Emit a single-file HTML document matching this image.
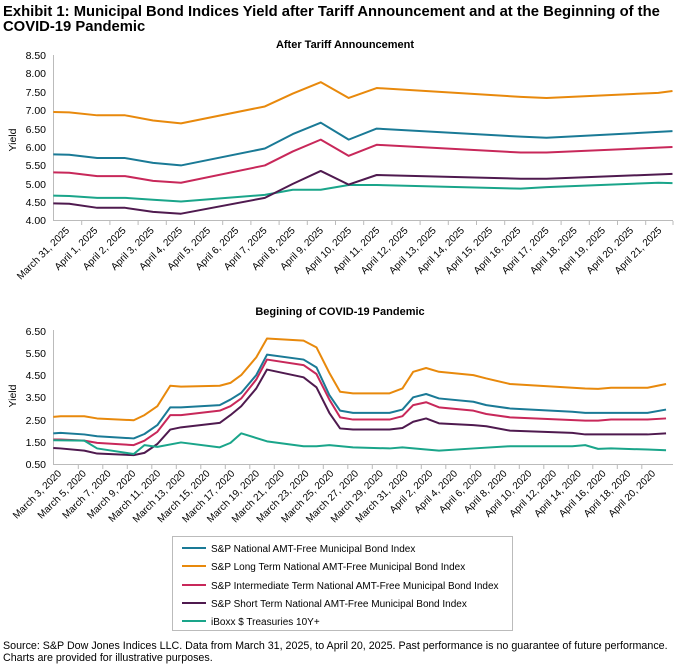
<!DOCTYPE html>
<html><head><meta charset="utf-8"><style>
body{margin:0;background:#fff;}
svg{display:block;font-family:"Liberation Sans",Arial,sans-serif;}
</style></head><body>
<svg width="676" height="664" viewBox="0 0 676 664" xmlns="http://www.w3.org/2000/svg">
<text x="3" y="16" font-size="14.8" font-weight="bold">Exhibit 1: Municipal Bond Indices Yield after Tariff Announcement and at the Beginning of the</text>
<text x="3" y="31" font-size="14.8" font-weight="bold">COVID-19 Pandemic</text>

<!-- TOP CHART -->
<text x="345" y="48" font-size="11" font-weight="bold" text-anchor="middle">After Tariff Announcement</text>
<g font-size="10.5" text-anchor="end">
<text x="46" y="59">8.50</text><text x="46" y="77">8.00</text><text x="46" y="96">7.50</text><text x="46" y="114">7.00</text><text x="46" y="133">6.50</text><text x="46" y="151">6.00</text><text x="46" y="169">5.50</text><text x="46" y="188">5.00</text><text x="46" y="206">4.50</text><text x="46" y="224">4.00</text>
</g>
<text transform="translate(16,140) rotate(-90)" font-size="10.5" text-anchor="middle">Yield</text>
<line x1="53.5" y1="55" x2="53.5" y2="221" stroke="#bbb"/>
<line x1="53" y1="220.5" x2="673" y2="220.5" stroke="#bbb"/>
<g stroke="#bbb">
<path d="M81.7 221v4M109.9 221v4M138.1 221v4M166.3 221v4M194.5 221v4M222.7 221v4M250.9 221v4M279.1 221v4M307.3 221v4M335.5 221v4M363.7 221v4M391.9 221v4M420.1 221v4M448.3 221v4M476.5 221v4M504.7 221v4M532.9 221v4M561.1 221v4M589.3 221v4M617.5 221v4M645.7 221v4M673 221v4"/>
</g>
<g transform="matrix(0.43 0 0 -36.85 0.4 368.1)" fill="none" stroke-width="2" stroke-linejoin="round">
<polyline vector-effect="non-scaling-stroke" stroke="#e8890c" points="123,6.95 160,6.94 225,6.86 290,6.86 355,6.72 420,6.64 615,7.1 680,7.45 745,7.76 810,7.33 875,7.6 1210,7.36 1270,7.33 1530,7.47 1563,7.52"/>
<polyline vector-effect="non-scaling-stroke" stroke="#1a7a96" points="123,5.8 160,5.79 225,5.7 290,5.7 355,5.57 420,5.5 615,5.96 680,6.35 745,6.66 810,6.2 875,6.5 1210,6.28 1270,6.25 1563,6.43"/>
<polyline vector-effect="non-scaling-stroke" stroke="#c8285a" points="123,5.31 160,5.3 225,5.21 290,5.21 355,5.08 420,5.03 615,5.5 680,5.88 745,6.2 810,5.76 875,6.06 1210,5.85 1270,5.85 1563,6.0"/>
<polyline vector-effect="non-scaling-stroke" stroke="#1aa58a" points="123,4.68 160,4.67 225,4.62 290,4.62 355,4.57 420,4.52 615,4.7 680,4.84 745,4.84 810,4.97 875,4.97 1210,4.87 1270,4.91 1530,5.03 1563,5.02"/>
<polyline vector-effect="non-scaling-stroke" stroke="#4f1a4f" points="123,4.47 160,4.46 225,4.35 290,4.35 355,4.24 420,4.19 615,4.62 680,5.0 745,5.35 810,4.98 875,5.24 1210,5.14 1270,5.14 1563,5.27"/>
</g>
<g font-size="10" text-anchor="end">
<text transform="translate(70,231) rotate(-45)">March 31, 2025</text>
<text transform="translate(98.2,231) rotate(-45)">April 1, 2025</text>
<text transform="translate(126.4,231) rotate(-45)">April 2, 2025</text>
<text transform="translate(154.6,231) rotate(-45)">April 3, 2025</text>
<text transform="translate(182.8,231) rotate(-45)">April 4, 2025</text>
<text transform="translate(211,231) rotate(-45)">April 5, 2025</text>
<text transform="translate(239.2,231) rotate(-45)">April 6, 2025</text>
<text transform="translate(267.4,231) rotate(-45)">April 7, 2025</text>
<text transform="translate(295.6,231) rotate(-45)">April 8, 2025</text>
<text transform="translate(323.8,231) rotate(-45)">April 9, 2025</text>
<text transform="translate(352,231) rotate(-45)">April 10, 2025</text>
<text transform="translate(380.2,231) rotate(-45)">April 11, 2025</text>
<text transform="translate(408.4,231) rotate(-45)">April 12, 2025</text>
<text transform="translate(436.6,231) rotate(-45)">April 13, 2025</text>
<text transform="translate(464.8,231) rotate(-45)">April 14, 2025</text>
<text transform="translate(493,231) rotate(-45)">April 15, 2025</text>
<text transform="translate(521.2,231) rotate(-45)">April 16, 2025</text>
<text transform="translate(549.4,231) rotate(-45)">April 17, 2025</text>
<text transform="translate(577.6,231) rotate(-45)">April 18, 2025</text>
<text transform="translate(605.8,231) rotate(-45)">April 19, 2025</text>
<text transform="translate(634,231) rotate(-45)">April 20, 2025</text>
<text transform="translate(662.2,231) rotate(-45)">April 21, 2025</text>
</g>

<!-- BOTTOM CHART -->
<text x="340" y="315" font-size="11" font-weight="bold" text-anchor="middle">Begining of COVID-19 Pandemic</text>
<g font-size="10.5" text-anchor="end">
<text x="46" y="335">6.50</text><text x="46" y="357">5.50</text><text x="46" y="379">4.50</text><text x="46" y="401">3.50</text><text x="46" y="424">2.50</text><text x="46" y="446">1.50</text><text x="46" y="468">0.50</text>
</g>
<text transform="translate(16,396) rotate(-90)" font-size="10.5" text-anchor="middle">Yield</text>
<line x1="53.5" y1="330" x2="53.5" y2="465" stroke="#bbb"/>
<line x1="53" y1="464.5" x2="673" y2="464.5" stroke="#bbb"/>
<g stroke="#bbb">
<path d="M78.3 465v4M102.8 465v4M127.3 465v4M151.8 465v4M176.3 465v4M200.8 465v4M225.3 465v4M249.8 465v4M274.3 465v4M298.8 465v4M323.3 465v4M347.8 465v4M372.3 465v4M396.8 465v4M421.3 465v4M445.8 465v4M470.3 465v4M494.8 465v4M519.3 465v4M543.8 465v4M568.3 465v4M592.8 465v4M617.3 465v4M641.8 465v4"/>
</g>
<g transform="matrix(0.43 0 0 -22.22 0.4 475.1)" fill="none" stroke-width="2" stroke-linejoin="round">
<polyline vector-effect="non-scaling-stroke" stroke="#e8890c" points="123,2.62 140,2.65 195,2.65 225,2.55 310,2.47 335,2.7 365,3.1 395,4.02 420,3.98 510,4.02 535,4.15 560,4.5 595,5.3 620,6.15 705,6.05 735,5.75 765,4.6 790,3.75 820,3.68 905,3.68 935,3.9 960,4.65 990,4.82 1020,4.65 1100,4.5 1130,4.35 1185,4.1 1360,3.9 1390,3.88 1420,3.93 1505,3.93 1548,4.1"/>
<polyline vector-effect="non-scaling-stroke" stroke="#1a7a96" points="123,1.88 140,1.9 195,1.83 225,1.75 310,1.65 335,1.85 365,2.25 395,3.05 420,3.05 510,3.15 535,3.4 560,3.7 595,4.5 620,5.42 705,5.2 735,4.85 765,3.6 790,2.9 820,2.8 905,2.8 935,2.95 960,3.5 990,3.65 1020,3.45 1100,3.3 1130,3.15 1185,3.0 1330,2.85 1360,2.8 1505,2.8 1548,2.95"/>
<polyline vector-effect="non-scaling-stroke" stroke="#c8285a" points="123,1.6 140,1.6 195,1.55 225,1.45 310,1.35 335,1.55 365,1.95 395,2.7 420,2.7 510,2.9 535,3.1 560,3.45 595,4.3 620,5.2 705,4.95 735,4.55 765,3.4 790,2.6 820,2.5 905,2.5 935,2.65 960,3.15 990,3.28 1020,3.05 1100,2.9 1130,2.75 1185,2.6 1360,2.45 1390,2.45 1420,2.5 1505,2.5 1548,2.55"/>
<polyline vector-effect="non-scaling-stroke" stroke="#4f1a4f" points="123,1.22 140,1.2 195,1.1 225,0.97 310,0.9 335,1.0 365,1.4 395,2.05 420,2.15 510,2.35 535,2.7 560,3.1 595,3.9 620,4.75 705,4.4 735,3.95 765,2.8 790,2.1 820,2.05 905,2.05 935,2.12 960,2.4 990,2.55 1020,2.33 1100,2.25 1130,2.2 1185,2.0 1330,1.9 1360,1.83 1505,1.83 1548,1.88"/>
<polyline vector-effect="non-scaling-stroke" stroke="#1aa58a" points="123,1.57 195,1.55 225,1.2 310,0.95 335,1.35 365,1.27 420,1.47 510,1.25 535,1.45 560,1.88 620,1.52 705,1.3 735,1.3 765,1.35 820,1.25 905,1.2 935,1.25 990,1.15 1020,1.1 1100,1.2 1185,1.3 1330,1.3 1360,1.35 1390,1.18 1420,1.2 1505,1.15 1548,1.12"/>
</g>
<g font-size="10" text-anchor="end">
<text transform="translate(62,474) rotate(-45)">March 3, 2020</text>
<text transform="translate(86.75,474) rotate(-45)">March 5, 2020</text>
<text transform="translate(111.5,474) rotate(-45)">March 7, 2020</text>
<text transform="translate(136.25,474) rotate(-45)">March 9, 2020</text>
<text transform="translate(161,474) rotate(-45)">March 11, 2020</text>
<text transform="translate(185.75,474) rotate(-45)">March 13, 2020</text>
<text transform="translate(210.5,474) rotate(-45)">March 15, 2020</text>
<text transform="translate(235.25,474) rotate(-45)">March 17, 2020</text>
<text transform="translate(260,474) rotate(-45)">March 19, 2020</text>
<text transform="translate(284.75,474) rotate(-45)">March 21, 2020</text>
<text transform="translate(309.5,474) rotate(-45)">March 23, 2020</text>
<text transform="translate(334.25,474) rotate(-45)">March 25, 2020</text>
<text transform="translate(359,474) rotate(-45)">March 27, 2020</text>
<text transform="translate(383.75,474) rotate(-45)">March 29, 2020</text>
<text transform="translate(408.5,474) rotate(-45)">March 31, 2020</text>
<text transform="translate(433.25,474) rotate(-45)">April 2, 2020</text>
<text transform="translate(458,474) rotate(-45)">April 4, 2020</text>
<text transform="translate(482.75,474) rotate(-45)">April 6, 2020</text>
<text transform="translate(507.5,474) rotate(-45)">April 8, 2020</text>
<text transform="translate(532.25,474) rotate(-45)">April 10, 2020</text>
<text transform="translate(557,474) rotate(-45)">April 12, 2020</text>
<text transform="translate(581.75,474) rotate(-45)">April 14, 2020</text>
<text transform="translate(606.5,474) rotate(-45)">April 16, 2020</text>
<text transform="translate(631.25,474) rotate(-45)">April 18, 2020</text>
<text transform="translate(656,474) rotate(-45)">April 20, 2020</text>
</g>

<!-- LEGEND -->
<rect x="172.5" y="536.5" width="340" height="94" fill="none" stroke="#bbb"/>
<g font-size="10">
<line x1="182" y1="548" x2="206" y2="548" stroke="#1a7a96" stroke-width="2"/><text x="211" y="552">S&amp;P National AMT-Free Municipal Bond Index</text>
<line x1="182" y1="566" x2="206" y2="566" stroke="#e8890c" stroke-width="2"/><text x="211" y="570">S&amp;P Long Term National AMT-Free Municipal Bond Index</text>
<line x1="182" y1="585" x2="206" y2="585" stroke="#c8285a" stroke-width="2"/><text x="211" y="589">S&amp;P Intermediate Term National AMT-Free Municipal Bond Index</text>
<line x1="182" y1="603" x2="206" y2="603" stroke="#4f1a4f" stroke-width="2"/><text x="211" y="607">S&amp;P Short Term National AMT-Free Municipal Bond Index</text>
<line x1="182" y1="621" x2="206" y2="621" stroke="#1aa58a" stroke-width="2"/><text x="211" y="625">iBoxx $ Treasuries 10Y+</text>
</g>

<g font-size="10.7">
<text x="3" y="649">Source: S&amp;P Dow Jones Indices LLC.  Data from March 31, 2025, to April 20, 2025.  Past performance is no guarantee of future performance.</text>
<text x="3" y="661">Charts are provided for illustrative purposes.</text>
</g>
</svg>
</body></html>
